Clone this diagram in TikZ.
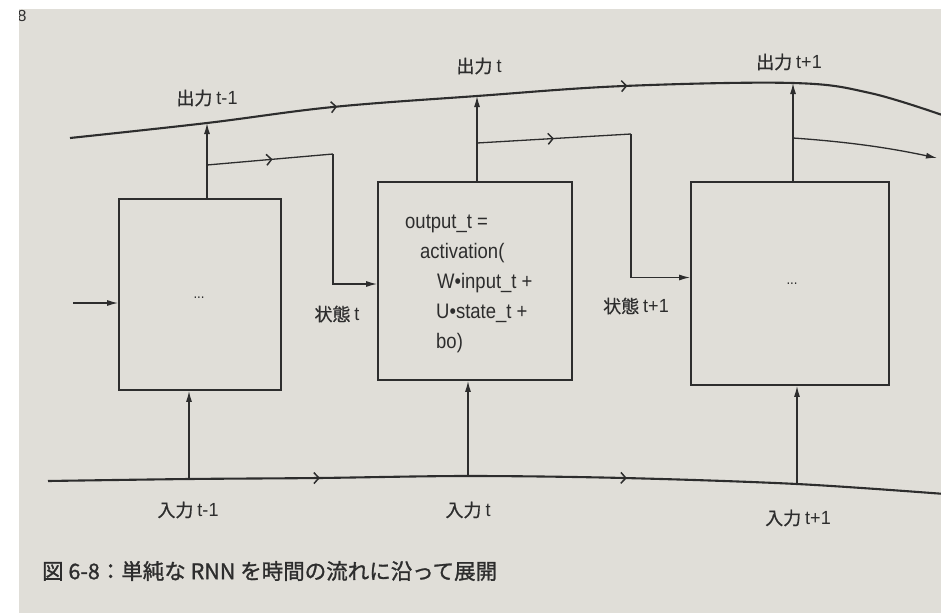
\documentclass[tikz,border=0pt]{standalone}
\usepackage{fontspec}
\setmainfont{Liberation Sans}
\newfontfamily\cjkf[FakeBold=0.6]{Noto Sans CJK JP}
\newfontfamily\capf[FakeBold=1.2]{Noto Sans CJK JP}
\newfontfamily\latf[FakeStretch=0.88]{Liberation Sans}
\newfontfamily\labf[FakeStretch=0.95]{Liberation Sans}
\usetikzlibrary{arrows.meta,decorations.markings}
\definecolor{paper}{RGB}{224,222,216}
\definecolor{ink}{RGB}{45,45,45}
\newcommand\jlab[2]{{\cjkf\fontsize{18}{20}\selectfont #1}\hspace{4pt}{\labf\fontsize{19}{20}\selectfont #2}}
\newcommand\chevtip{\arrow{Straight Barb[length=5pt,width=11pt,line width=1.5pt]}}
\begin{document}
\begin{tikzpicture}[x=1pt,y=-1pt,
  flow/.style={draw=ink,line width=2.1pt},
  thinline/.style={draw=ink,line width=1.3pt},
  tip/.style={-{Latex[length=11pt,width=6pt]}},
  cell/.style={draw=ink,line width=1.7pt,rectangle,inner sep=0pt},
  lbl/.style={text=ink,inner sep=0pt},
  code/.style={text=ink,font=\latf\fontsize{21}{24}\selectfont,inner sep=0pt,anchor=base west},
  chevs/.style 2 args={postaction={decorate},decoration={markings,
     mark=at position #1 with {\chevtip},mark=at position #2 with {\chevtip}}},
  onechev/.style={postaction={decorate},decoration={markings,
     mark=at position #1 with {\chevtip}}}
]
% page
\useasboundingbox (0,0) rectangle (941,613);
\fill[paper] (0,0) rectangle (941,613);
\node[text=ink,font=\fontsize{16}{18}\selectfont,inner sep=0pt] (pg) at (22,16) {8};
\fill[white] (0,0) rectangle (19,613);
\fill[white] (0,0) rectangle (941,9);

% cells
\node[cell,minimum width=162pt,minimum height=191pt] (b1) at (200,294.5) {};
\node[cell,minimum width=194pt,minimum height=198pt] (b2) at (475,281) {};
\node[cell,minimum width=198pt,minimum height=203pt] (b3) at (790,283.5) {};

% top output line
\coordinate (T0) at (70,138);
\coordinate (o1) at (207,123);
\coordinate (T2) at (333,107);
\coordinate (o2) at (477,96);
\coordinate (T4) at (624,86);
\coordinate (o3) at (793,83);
\coordinate (T6) at (870,93);
\coordinate (T7) at (945,116);
\draw[flow,chevs={0.305}{0.635}] plot[smooth,tension=0.6] coordinates {(T0) (o1) (T2) (o2) (T4) (o3) (T6) (T7)};

% bottom input line
\coordinate (B0) at (48,481);
\coordinate (i1) at (189,479);
\coordinate (B2) at (318,478);
\coordinate (i2) at (468,476);
\coordinate (B4) at (624,478);
\coordinate (i3) at (797,484);
\coordinate (B6) at (945,494);
\draw[flow,chevs={0.303}{0.645}] plot[smooth,tension=0.55] coordinates {(B0) (i1) (B2) (i2) (B4) (i3) (B6)};

% outputs
\draw[thinline,tip] (o1 |- b1.north) -- (o1);
\draw[thinline,tip] (o2 |- b2.north) -- (o2);
\draw[thinline,tip] (o3 |- b3.north) -- (o3);

% inputs
\draw[thinline,tip] (i1) -- (i1 |- b1.south);
\draw[thinline,tip] (i2) -- (i2 |- b2.south);
\draw[thinline,tip] (i3) -- (i3 |- b3.south);

% incoming state on the left
\coordinate (in0) at (73,303);
\draw[thinline,tip] (in0) -- (in0 -| b1.west);

% state branches
\coordinate (br1) at (207,165);
\coordinate (c1) at (333,154);
\draw[thinline,onechev=0.52] (br1) -- (c1);
\draw[thinline,tip] (c1) |- ([yshift=-3pt]b2.west);

\coordinate (br2) at (477,143);
\coordinate (c2) at (631,134);
\draw[thinline,onechev=0.5] (br2) -- (c2);
\draw[thinline,tip] (c2) |- ([yshift=6pt]b3.west);

\coordinate (br3) at (793,138);
\coordinate (e3) at (937,158);
\draw[thinline,tip] (br3) .. controls (850,142) and (890,148) .. (e3);

% box contents
\node[text=ink,font=\latf\fontsize{15}{16}\selectfont,inner sep=0pt] (d1) at (199,298) {...};
\node[text=ink,font=\latf\fontsize{15}{16}\selectfont,inner sep=0pt] (d3) at (792,284) {...};
\node[code] (l1) at (405,228) {output\_t =};
\node[code] (l2) at (420,258) {activation(};
\node[code] (l3) at (437,288) {W•input\_t +};
\node[code] (l4) at (436,318) {U•state\_t +};
\node[code] (l5) at (436,348) {bo)};

% labels
\node[lbl] (out1) at (207,98) {\jlab{出力}{t-1}};
\node[lbl] (out2) at (479,66) {\jlab{出力}{t}};
\node[lbl] (out3) at (789,62) {\jlab{出力}{t+1}};
\node[lbl] (st2) at (337,314) {\jlab{状態}{t}};
\node[lbl] (st3) at (636,306) {\jlab{状態}{t+1}};
\node[lbl] (in1) at (188,510) {\jlab{入力}{t-1}};
\node[lbl] (in2) at (468,510) {\jlab{入力}{t}};
\node[lbl] (in3) at (798,518) {\jlab{入力}{t+1}};

% caption
\node[text=ink,anchor=west,inner sep=0pt,font=\capf\fontsize{21.5}{23}\selectfont] (cap) at (42,571) {図 6-8：単純な RNN を時間の流れに沿って展開};
\end{tikzpicture}
\end{document}
